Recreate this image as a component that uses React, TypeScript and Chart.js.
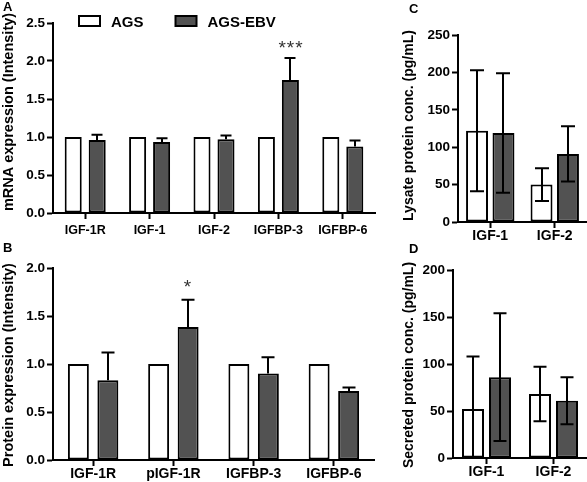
import React, { useEffect, useRef } from "react";
import { Chart, registerables } from "chart.js";

Chart.register(...registerables);

const FONT = '"Liberation Sans", Arial, Helvetica, sans-serif';

// ---------- data ----------
const seriesNames = ["AGS", "AGS-EBV"];

const mrnaGenes = ["IGF-1R", "IGF-1", "IGF-2", "IGFBP-3", "IGFBP-6"];
const mrnaAgs = [1, 1, 1, 1, 1];
const mrnaEbv = [0.96, 0.935, 0.97, 1.75, 0.875];
const mrnaEbvErr = [0.07, 0.05, 0.05, 0.29, 0.08];
const mrnaStars = ["", "", "", "***", ""];

const proteinTargets = ["IGF-1R", "pIGF-1R", "IGFBP-3", "IGFBP-6"];
const proteinAgs = [1, 1, 1, 1];
const proteinEbv = [0.83, 1.385, 0.9, 0.72];
const proteinEbvErr = [0.29, 0.285, 0.17, 0.035];
const proteinStars = ["", "*", "", ""];

const lysateFactors = ["IGF-1", "IGF-2"];
const lysateAgs = [122, 50];
const lysateAgsErr = [81, 22];
const lysateEbv = [119, 91];
const lysateEbvErr = [80, 37];

const secretedFactors = ["IGF-1", "IGF-2"];
const secretedAgs = [52, 68];
const secretedAgsErr = [56, 29];
const secretedEbv = [86, 61];
const secretedEbvErr = [68, 25];

const WHITE = "#ffffff";
const DARK = "#525252";

// ---------- plugins ----------
const errorBarPlugin = {
  id: "errorBars",
  afterDatasetsDraw(chart: any, _a: any, opts: any) {
    const ctx = chart.ctx;
    const y = chart.scales.y;
    chart.data.datasets.forEach((ds: any, di: number) => {
      const err = ds.errors;
      if (!err) return;
      const meta = chart.getDatasetMeta(di);
      meta.data.forEach((bar: any, i: number) => {
        const e = err[i];
        if (!e) return;
        const v = ds.data[i];
        const top = y.getPixelForValue(v + e);
        const bottom = opts.twoSided
          ? y.getPixelForValue(Math.max(0, v - e))
          : y.getPixelForValue(v);
        const c = opts.capWidth / 2;
        const x = Math.round(bar.x);
        ctx.save();
        ctx.strokeStyle = "#000";
        ctx.lineWidth = 2;
        ctx.beginPath();
        ctx.moveTo(x, bottom);
        ctx.lineTo(x, top);
        ctx.moveTo(x - c, top);
        ctx.lineTo(x + c, top);
        if (opts.twoSided) {
          ctx.moveTo(x - c, bottom);
          ctx.lineTo(x + c, bottom);
        }
        ctx.stroke();
        const s = ds.stars && ds.stars[i];
        if (s) {
          ctx.fillStyle = "#333";
          ctx.font = `19px ${FONT}`;
          (ctx as any).letterSpacing = "1px";
          ctx.textAlign = "center";
          ctx.textBaseline = "alphabetic";
          ctx.fillText(s, x + (s.length > 1 ? 1 : 0), top - opts.starOffset);
        }
        ctx.restore();
      });
    });
  },
};

const legendPlugin = {
  id: "boxLegend",
  afterDraw(chart: any, _a: any, opts: any) {
    if (!opts || !opts.display) return;
    const ctx = chart.ctx;
    ctx.save();
    ctx.font = `bold 15px ${FONT}`;
    ctx.textBaseline = "alphabetic";
    ctx.textAlign = "left";
    let x = opts.x;
    const y = opts.y;
    chart.data.datasets.forEach((ds: any) => {
      ctx.fillStyle = ds.backgroundColor;
      ctx.fillRect(x, y, 21, 10);
      ctx.strokeStyle = "#000";
      ctx.lineWidth = 2;
      ctx.strokeRect(x, y, 21, 10);
      ctx.fillStyle = "#000";
      ctx.fillText(ds.label, x + 32, y + 11);
      x += 32 + ctx.measureText(ds.label).width + opts.gap;
    });
    ctx.restore();
  },
};

const yTitlePlugin = {
  id: "yTitle",
  afterDraw(chart: any, _a: any, opts: any) {
    if (!opts || !opts.text) return;
    const ctx = chart.ctx;
    const area = chart.chartArea;
    const cy = (area.top + area.bottom) / 2 + opts.dy;
    ctx.save();
    ctx.translate(opts.x, cy);
    ctx.rotate(-Math.PI / 2);
    ctx.font = `bold ${opts.size}px ${FONT}`;
    ctx.fillStyle = "#000";
    ctx.textAlign = "center";
    ctx.textBaseline = "middle";
    ctx.fillText(opts.text, 0, 0);
    ctx.restore();
  },
};

// ---------- chart builder ----------
type PanelSpec = {
  labels: string[];
  ags: number[];
  ebv: number[];
  agsErr?: number[];
  ebvErr: number[];
  stars?: string[];
  twoSided: boolean;
  yMax: number;
  yStep: number;
  decimals: number;
  yTitle: string;
  titleSize: number;
  titleDy: number;
  yTickSize: number;
  xTickSize: number;
  xPad: number;
  yWidth: number;
  xHeight: number;
  padTop: number;
  padRight: number;
  catPct: number;
  barPct: number;
  capWidth: number;
  starOffset: number;
  legend?: { x: number; y: number; gap: number };
};

function buildConfig(p: PanelSpec): any {
  return {
    type: "bar",
    data: {
      labels: p.labels,
      datasets: [
        {
          label: seriesNames[0],
          data: p.ags,
          errors: p.agsErr,
          backgroundColor: WHITE,
          borderColor: "#000",
          borderWidth: 2,
          borderSkipped: false,
          categoryPercentage: p.catPct,
          barPercentage: p.barPct,
        },
        {
          label: seriesNames[1],
          data: p.ebv,
          errors: p.ebvErr,
          stars: p.stars,
          backgroundColor: DARK,
          borderColor: "#000",
          borderWidth: 2,
          borderSkipped: false,
          categoryPercentage: p.catPct,
          barPercentage: p.barPct,
        },
      ],
    },
    options: {
      responsive: false,
      animation: false,
      devicePixelRatio: 1,
      events: [],
      layout: { padding: { top: p.padTop, right: p.padRight, left: 0, bottom: 0 } },
      plugins: {
        legend: { display: false },
        tooltip: { enabled: false },
        errorBars: { twoSided: p.twoSided, capWidth: p.capWidth, starOffset: p.starOffset },
        boxLegend: p.legend ? { display: true, ...p.legend } : { display: false },
        yTitle: { text: p.yTitle, size: p.titleSize, x: 9, dy: p.titleDy },
      },
      scales: {
        x: {
          type: "category",
          offset: true,
          grid: {
            display: true,
            drawOnChartArea: false,
            drawTicks: true,
            tickLength: 6,
            tickWidth: 2,
            tickColor: "#000",
            offset: false,
          },
          border: { display: true, color: "#000", width: 2 },
          ticks: {
            color: "#000",
            font: { family: FONT, size: p.xTickSize, weight: "bold" },
            padding: p.xPad,
            maxRotation: 0,
            autoSkip: false,
          },
          afterFit: (s: any) => {
            s.height = p.xHeight;
          },
        },
        y: {
          min: 0,
          max: p.yMax,
          grid: {
            display: true,
            drawOnChartArea: false,
            drawTicks: true,
            tickLength: 6,
            tickWidth: 2,
            tickColor: "#000",
          },
          border: { display: true, color: "#000", width: 2 },
          ticks: {
            stepSize: p.yStep,
            color: "#000",
            font: { family: FONT, size: p.yTickSize, weight: "bold" },
            padding: 2,
            callback: (v: any) => Number(v).toFixed(p.decimals),
          },
          title: { display: false },
          afterFit: (s: any) => {
            s.width = p.yWidth;
          },
        },
      },
    },
    plugins: [errorBarPlugin, legendPlugin, yTitlePlugin],
  };
}

const panelA: PanelSpec = {
  labels: mrnaGenes,
  ags: mrnaAgs,
  ebv: mrnaEbv,
  ebvErr: mrnaEbvErr,
  stars: mrnaStars,
  twoSided: false,
  yMax: 2.5,
  yStep: 0.5,
  decimals: 1,
  yTitle: "mRNA expression (Intensity)",
  titleSize: 14.5,
  titleDy: -6,
  yTickSize: 13.5,
  xTickSize: 12.5,
  xPad: 4,
  yWidth: 53,
  xHeight: 27,
  padTop: 23,
  padRight: 25,
  catPct: 0.745,
  barPct: 0.71,
  capWidth: 11,
  starOffset: 4,
  legend: { x: 79, y: 16, gap: 32 },
};

const panelB: PanelSpec = {
  labels: proteinTargets,
  ags: proteinAgs,
  ebv: proteinEbv,
  ebvErr: proteinEbvErr,
  stars: proteinStars,
  twoSided: false,
  yMax: 2.0,
  yStep: 0.5,
  decimals: 1,
  yTitle: "Protein expression (Intensity)",
  titleSize: 14.5,
  titleDy: 1,
  yTickSize: 13.5,
  xTickSize: 14,
  xPad: 0,
  yWidth: 53,
  xHeight: 22,
  padTop: 28,
  padRight: 26,
  catPct: 0.735,
  barPct: 0.71,
  capWidth: 13,
  starOffset: 7,
};

const panelC: PanelSpec = {
  labels: lysateFactors,
  ags: lysateAgs,
  ebv: lysateEbv,
  agsErr: lysateAgsErr,
  ebvErr: lysateEbvErr,
  twoSided: true,
  yMax: 250,
  yStep: 50,
  decimals: 0,
  yTitle: "Lysate protein conc. (pg/mL)",
  titleSize: 14,
  titleDy: -3,
  yTickSize: 13.5,
  xTickSize: 14,
  xPad: 0,
  yWidth: 58,
  xHeight: 18,
  padTop: 35,
  padRight: 0,
  catPct: 0.82,
  barPct: 0.83,
  capWidth: 14,
  starOffset: 4,
};

const panelD: PanelSpec = {
  labels: secretedFactors,
  ags: secretedAgs,
  ebv: secretedEbv,
  agsErr: secretedAgsErr,
  ebvErr: secretedEbvErr,
  twoSided: true,
  yMax: 200,
  yStep: 50,
  decimals: 0,
  yTitle: "Secreted protein conc. (pg/mL)",
  titleSize: 14,
  titleDy: 1,
  yTickSize: 13.5,
  xTickSize: 14,
  xPad: 0,
  yWidth: 53,
  xHeight: 24,
  padTop: 30,
  padRight: 0,
  catPct: 0.806,
  barPct: 0.815,
  capWidth: 13,
  starOffset: 4,
};

function Panel(props: { spec: PanelSpec; left: number; top: number; width: number; height: number }) {
  const ref = useRef<HTMLCanvasElement | null>(null);
  useEffect(() => {
    if (!ref.current) return;
    const chart = new Chart(ref.current, buildConfig(props.spec));
    return () => chart.destroy();
  }, []);
  return (
    <canvas
      ref={ref}
      width={props.width}
      height={props.height}
      style={{
        position: "absolute",
        left: props.left,
        top: props.top,
        width: props.width,
        height: props.height,
      }}
    />
  );
}

function Letter(props: { text: string; left: number; top: number }) {
  return (
    <div
      style={{
        position: "absolute",
        left: props.left,
        top: props.top,
        fontFamily: FONT,
        fontWeight: "bold",
        fontSize: 13,
        lineHeight: "13px",
        color: "#000",
      }}
    >
      {props.text}
    </div>
  );
}

export default function App() {
  return (
    <div
      style={{
        position: "absolute",
        left: 0,
        top: 0,
        width: 587,
        height: 482,
        background: "#fff",
        overflow: "hidden",
      }}
    >
      <Panel spec={panelA} left={0} top={0} width={400} height={240} />
      <Panel spec={panelB} left={0} top={240} width={400} height={242} />
      <Panel spec={panelC} left={400} top={0} width={187} height={240} />
      <Panel spec={panelD} left={400} top={240} width={187} height={242} />
      <Letter text="A" left={3} top={0} />
      <Letter text="B" left={3} top={241} />
      <Letter text="C" left={409} top={2} />
      <Letter text="D" left={409} top={242} />
    </div>
  );
}
